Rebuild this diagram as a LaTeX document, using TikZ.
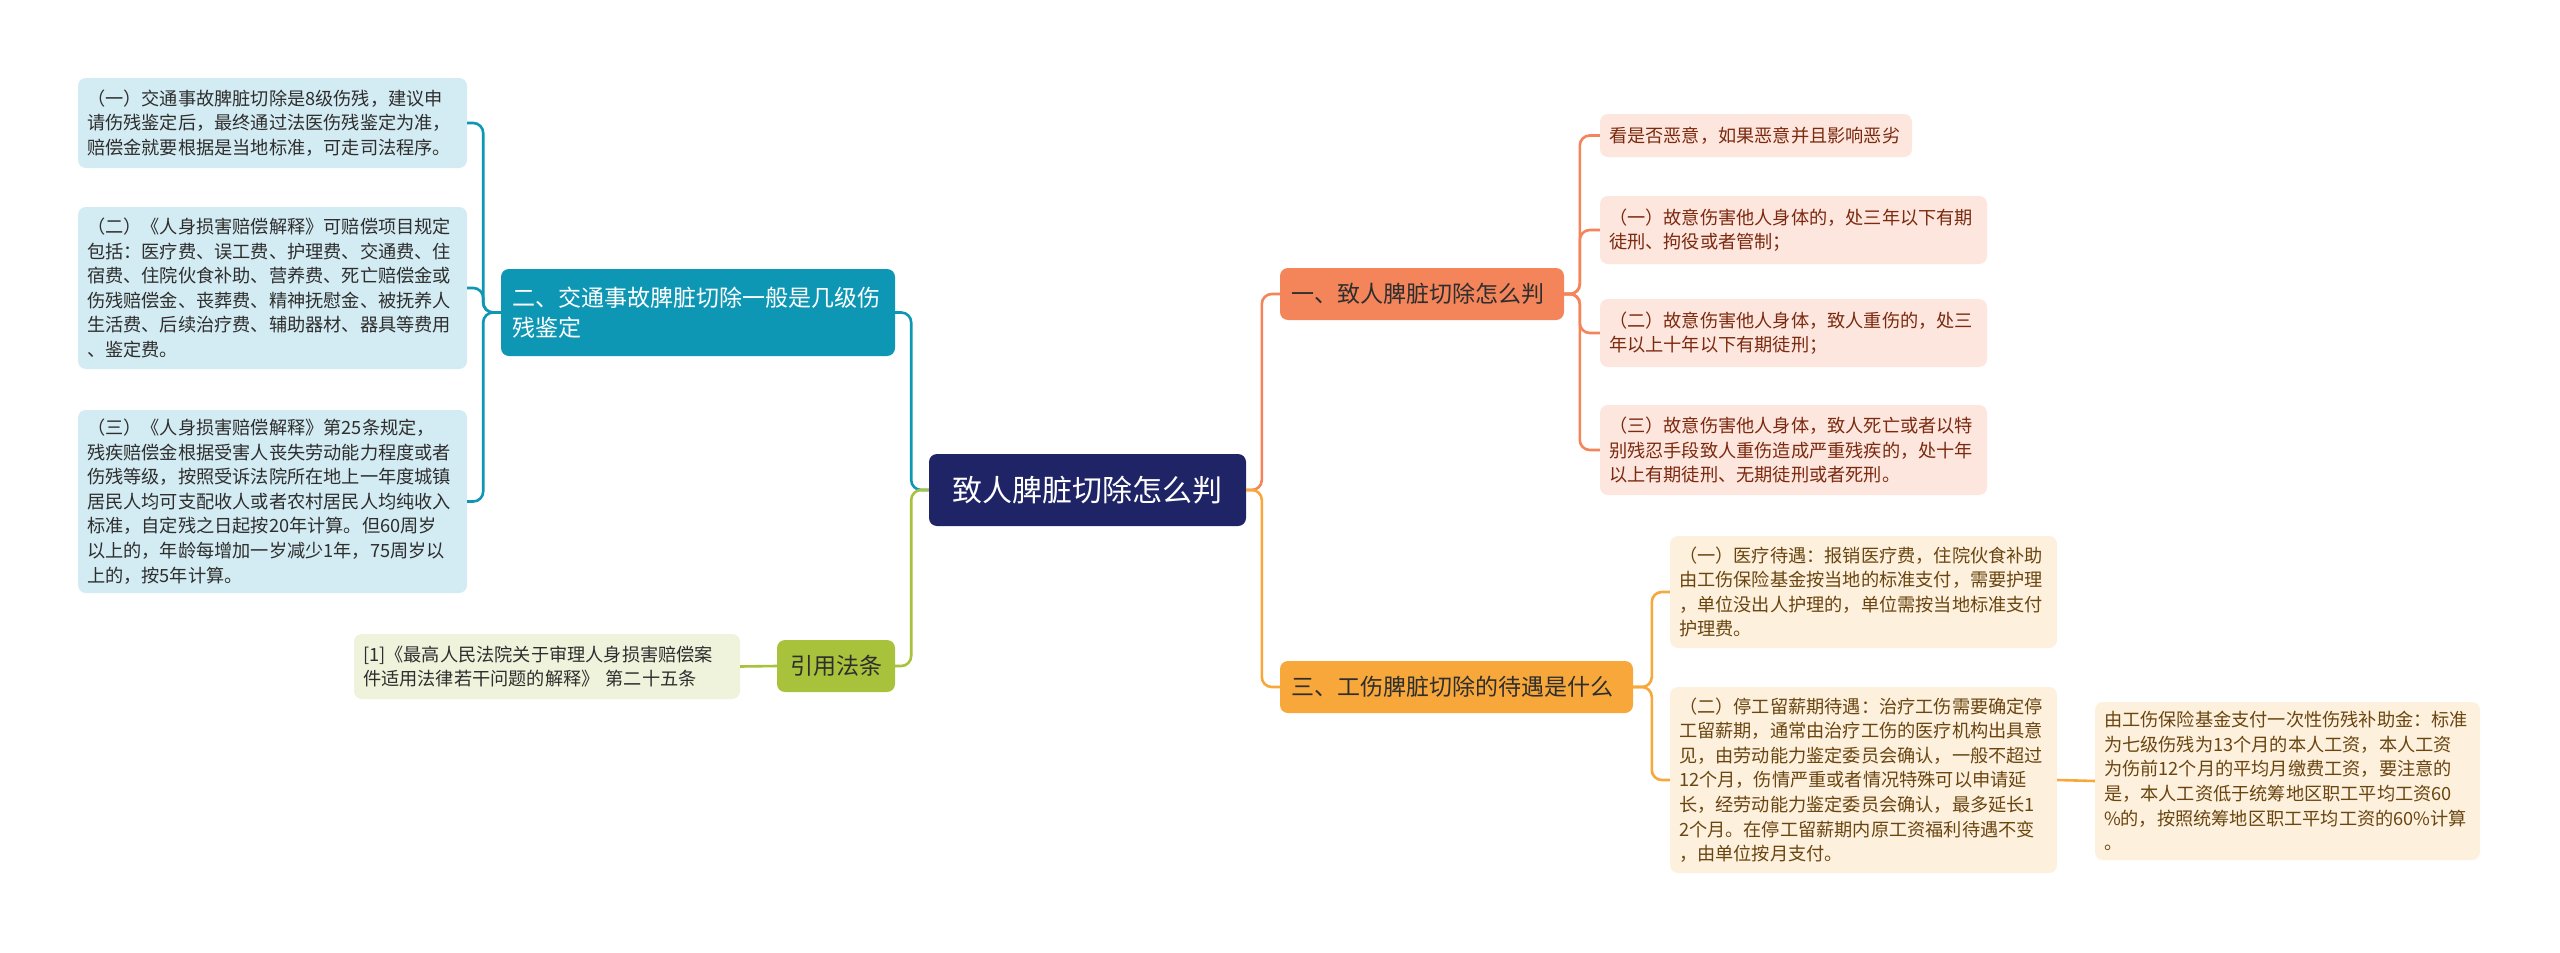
\documentclass[tikz,border=0pt]{standalone}
\usepackage{fontspec}
\newfontfamily\cjk{Noto Sans CJK SC}
\definecolor{tealc}{HTML}{0E97B5}
\definecolor{leafblue}{HTML}{D3EBF2}
\definecolor{navy}{HTML}{1F2466}
\definecolor{limec}{HTML}{A9C23B}
\definecolor{leaflime}{HTML}{EFF3DC}
\definecolor{salmon}{HTML}{F4845A}
\definecolor{leafsalmon}{HTML}{FDE6DD}
\definecolor{salmontext}{HTML}{7B2A10}
\definecolor{amber}{HTML}{F8A83B}
\definecolor{leafamber}{HTML}{FDF1DE}
\definecolor{ambertext}{HTML}{6A4510}
\definecolor{darktext}{HTML}{2E2E2E}
\tikzset{
  base/.style={rounded corners=8pt, inner xsep=9pt, inner ysep=0pt, align=left, anchor=center},
  leaf/.style={base, font=\cjk\fontsize{18.2}{24.6}\selectfont},
  leafL/.style={leaf, fill=leafblue, text=darktext},
  leafR/.style={leaf, fill=leaflime, text=darktext},
  leafS/.style={leaf, fill=leafsalmon, text=salmontext},
  leafA/.style={leaf, fill=leafamber, text=ambertext},
  mainbox/.style={base, inner xsep=11pt, font=\cjk\fontsize{23}{30}\selectfont},
  conn/.style={line width=2.6pt, rounded corners=10pt},
}
\begin{document}
\begin{tikzpicture}[x=1pt,y=-1pt]
\useasboundingbox (0,0) rectangle (2560,953);
\fill[white] (0,0) rectangle (2560,953);

% center
\node[base, fill=navy, text=white, font=\cjk\fontsize{30}{36}\selectfont, align=center,
  minimum width=317pt, minimum height=72pt] (root) at (1087.5,490) {致人脾脏切除怎么判};

% left branch
\node[mainbox, fill=tealc, text=white, minimum width=394pt, minimum height=87pt, text width=372pt] (two) at (698,312.5)
  {二、交通事故脾脏切除一般是几级伤\\残鉴定};
\node[leafL, minimum width=389pt, minimum height=90pt, text width=371pt] (b1) at (272.5,123)
  {（一）交通事故脾脏切除是8级伤残，建议申\\请伤残鉴定后，最终通过法医伤残鉴定为准，\\赔偿金就要根据是当地标准，可走司法程序。};
\node[leafL, minimum width=389pt, minimum height=162pt, text width=371pt] (b2) at (272.5,288)
  {（二）《人身损害赔偿解释》可赔偿项目规定\\包括：医疗费、误工费、护理费、交通费、住\\宿费、住院伙食补助、营养费、死亡赔偿金或\\伤残赔偿金、丧葬费、精神抚慰金、被抚养人\\生活费、后续治疗费、辅助器材、器具等费用\\、鉴定费。};
\node[leafL, minimum width=389pt, minimum height=183pt, text width=371pt] (b3) at (272.5,501.5)
  {（三）《人身损害赔偿解释》第25条规定，\\残疾赔偿金根据受害人丧失劳动能力程度或者\\伤残等级，按照受诉法院所在地上一年度城镇\\居民人均可支配收人或者农村居民人均纯收入\\标准，自定残之日起按20年计算。但60周岁\\以上的，年龄每增加一岁减少1年，75周岁以\\上的，按5年计算。};

\node[mainbox, fill=limec, text=darktext, align=center, inner xsep=0pt, minimum width=118pt, minimum height=52pt] (ref) at (836,666) {引用法条};
\node[leafR, minimum width=386pt, minimum height=65pt, text width=368pt] (refleaf) at (547,666.5)
  {[1]《最高人民法院关于审理人身损害赔偿案\\件适用法律若干问题的解释》 第二十五条};

% right branch one
\node[mainbox, fill=salmon, text=darktext, minimum width=284pt, minimum height=52pt, text width=262pt] (one) at (1422,294)
  {一、致人脾脏切除怎么判};
\node[leafS, minimum width=312pt, minimum height=43pt, text width=294pt] (c1) at (1756,135.5)
  {看是否恶意，如果恶意并且影响恶劣};
\node[leafS, minimum width=387pt, minimum height=68pt, text width=369pt] (c2) at (1793.5,230)
  {（一）故意伤害他人身体的，处三年以下有期\\徒刑、拘役或者管制；};
\node[leafS, minimum width=387pt, minimum height=68pt, text width=369pt] (c3) at (1793.5,333)
  {（二）故意伤害他人身体，致人重伤的，处三\\年以上十年以下有期徒刑；};
\node[leafS, minimum width=387pt, minimum height=90pt, text width=369pt] (c4) at (1793.5,450)
  {（三）故意伤害他人身体，致人死亡或者以特\\别残忍手段致人重伤造成严重残疾的，处十年\\以上有期徒刑、无期徒刑或者死刑。};

% right branch three
\node[mainbox, fill=amber, text=darktext, minimum width=353pt, minimum height=52pt, text width=331pt] (three) at (1456.5,687)
  {三、工伤脾脏切除的待遇是什么};
\node[leafA, minimum width=387pt, minimum height=112pt, text width=369pt] (d1) at (1863.5,592)
  {（一）医疗待遇：报销医疗费，住院伙食补助\\由工伤保险基金按当地的标准支付，需要护理\\，单位没出人护理的，单位需按当地标准支付\\护理费。};
\node[leafA, minimum width=387pt, minimum height=186pt, text width=369pt] (d2) at (1863.5,780)
  {（二）停工留薪期待遇：治疗工伤需要确定停\\工留薪期，通常由治疗工伤的医疗机构出具意\\见，由劳动能力鉴定委员会确认，一般不超过\\12个月，伤情严重或者情况特殊可以申请延\\长，经劳动能力鉴定委员会确认，最多延长1\\2个月。在停工留薪期内原工资福利待遇不变\\，由单位按月支付。};
\node[leafA, minimum width=385pt, minimum height=158pt, text width=367pt] (e1) at (2287.5,781)
  {由工伤保险基金支付一次性伤残补助金：标准\\为七级伤残为13个月的本人工资，本人工资\\为伤前12个月的平均月缴费工资，要注意的\\是，本人工资低于统筹地区职工平均工资60\\\%的，按照统筹地区职工平均工资的60\%计算\\。};

% connectors
\draw[conn, tealc] (root.west) -| ([xshift=16pt]two.east) -- (two.east);
\draw[conn, limec] (root.west) -| ([xshift=16pt]ref.east) -- (ref.east);
\draw[conn, limec] (ref.west) -- (refleaf.east);
\foreach \c in {b1,b2,b3}
  \draw[conn, tealc] (two.west) -| ([xshift=16pt]\c.east) -- (\c.east);

\draw[conn, salmon] (root.east) -| ([xshift=-18pt]one.west) -- (one.west);
\draw[conn, amber] (root.east) -| ([xshift=-18pt]three.west) -- (three.west);
\foreach \c in {c1,c2,c3,c4}
  \draw[conn, salmon] (one.east) -| ([xshift=-20pt]\c.west) -- (\c.west);
\foreach \c in {d1,d2}
  \draw[conn, amber] (three.east) -| ([xshift=-18pt]\c.west) -- (\c.west);
\draw[conn, amber] (d2.east) -- (e1.west);
\end{tikzpicture}
\end{document}
